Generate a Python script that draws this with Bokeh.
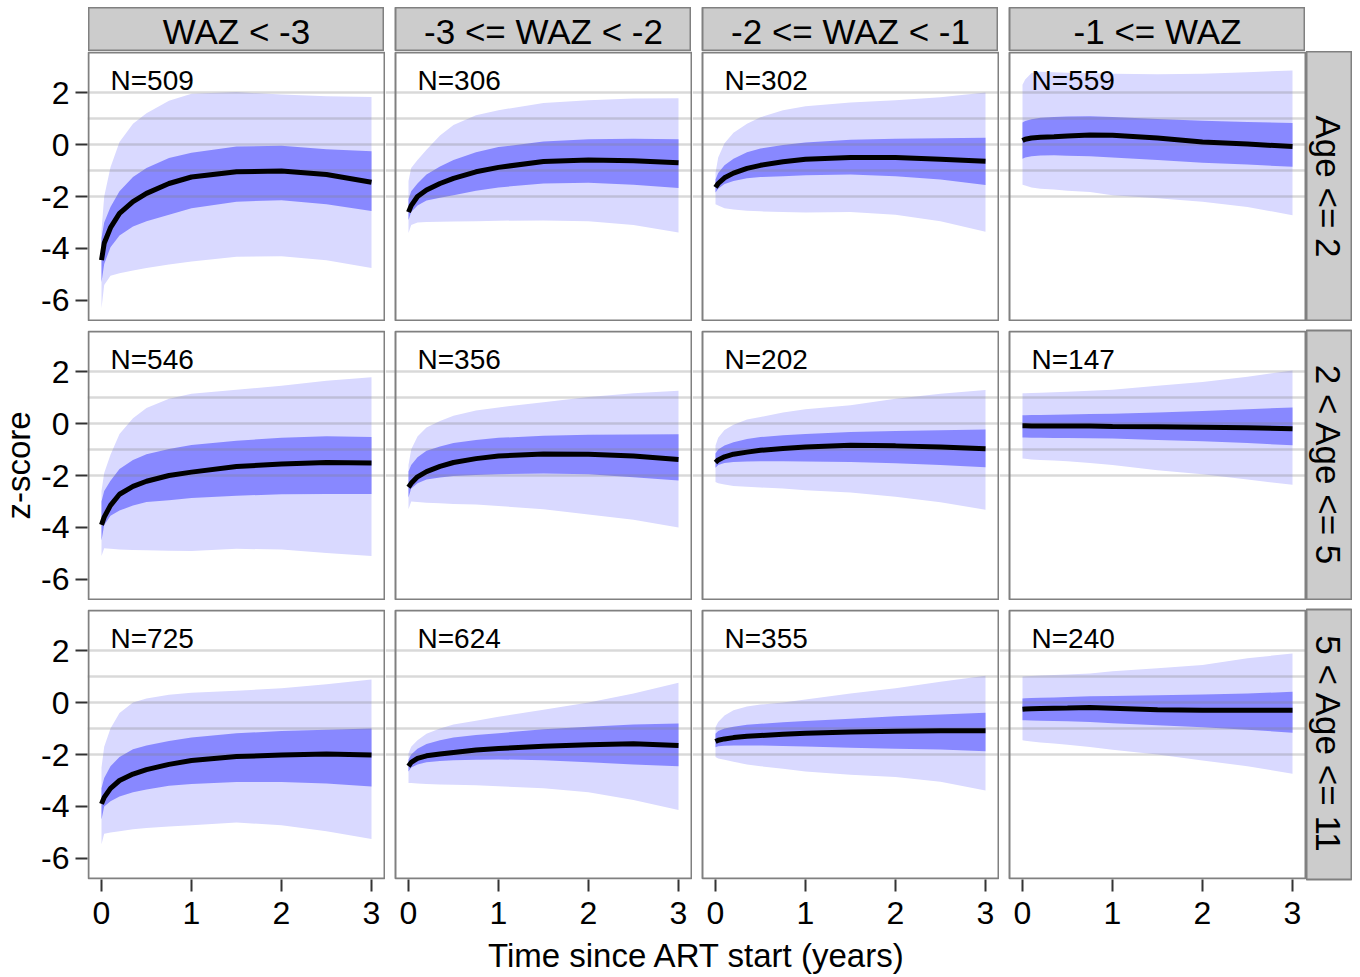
import math
from bokeh.plotting import figure
from bokeh.models import Range1d, LinearAxis, FixedTicker, Label, Spacer, CustomJSTickFormatter
from bokeh.layouts import row, column
from bokeh.embed import file_html
from bokeh.resources import INLINE
from bokeh.core.properties import value

# ---------------- data ----------------
T = [0, 0.03, 0.1, 0.2, 0.35, 0.5, 0.75, 1.0, 1.5, 2.0, 2.5, 3.0]

col_labels = ["WAZ < -3", "-3 <= WAZ < -2", "-2 <= WAZ < -1", "-1 <= WAZ"]
row_labels = ["Age <= 2", "2 < Age <= 5", "5 < Age <= 11"]
n_row1 = [509, 306, 302, 559]
n_row2 = [546, 356, 202, 147]
n_row3 = [725, 624, 355, 240]
x_ticks = [0, 1, 2, 3]
y_ticks = [-6, -4, -2, 0, 2]
ref_lines = [2, 1, 0, -1, -2]
x_lim = (-0.1444, 3.1444)
y_lim = (-6.77, 3.54)

# row 1 (Age <= 2)
r1c1_med = [-4.45, -3.8, -3.2, -2.65, -2.2, -1.88, -1.5, -1.25, -1.05, -1.02, -1.15, -1.45]
r1c1_ilo = [-5.3, -4.6, -3.95, -3.5, -3.15, -2.95, -2.7, -2.45, -2.2, -2.14, -2.3, -2.56]
r1c1_ihi = [-3.6, -3.0, -2.4, -1.8, -1.25, -0.9, -0.52, -0.32, -0.08, -0.05, -0.18, -0.26]
r1c1_olo = [-6.3, -5.4, -5.05, -4.95, -4.85, -4.75, -4.62, -4.5, -4.32, -4.3, -4.45, -4.75]
r1c1_ohi = [-3.3, -2.0, -0.87, 0.1, 0.8, 1.2, 1.68, 1.95, 2.02, 1.92, 1.86, 1.83]

r1c2_med = [-2.6, -2.35, -2.0, -1.75, -1.5, -1.3, -1.05, -0.88, -0.65, -0.6, -0.62, -0.7]
r1c2_ilo = [-2.9, -2.6, -2.35, -2.15, -2.05, -1.95, -1.78, -1.65, -1.5, -1.47, -1.55, -1.67]
r1c2_ihi = [-2.1, -1.8, -1.5, -1.15, -0.85, -0.6, -0.3, -0.1, 0.12, 0.2, 0.22, 0.2]
r1c2_olo = [-3.4, -3.1, -3.0, -2.98, -2.97, -2.96, -2.95, -2.93, -2.92, -2.95, -3.1, -3.38]
r1c2_ohi = [-1.4, -0.9, -0.6, -0.2, 0.35, 0.75, 1.13, 1.32, 1.6, 1.7, 1.77, 1.78]

r1c3_med = [-1.65, -1.5, -1.28, -1.1, -0.92, -0.8, -0.66, -0.57, -0.5, -0.5, -0.57, -0.64]
r1c3_ilo = [-1.85, -1.7, -1.52, -1.4, -1.3, -1.25, -1.22, -1.18, -1.15, -1.22, -1.35, -1.56]
r1c3_ihi = [-1.35, -1.1, -0.8, -0.55, -0.3, -0.15, -0.02, 0.08, 0.18, 0.22, 0.24, 0.26]
r1c3_olo = [-2.3, -2.35, -2.45, -2.5, -2.55, -2.57, -2.6, -2.62, -2.6, -2.7, -2.95, -3.36]
r1c3_ohi = [-1.1, -0.5, 0.05, 0.45, 0.8, 1.05, 1.32, 1.47, 1.62, 1.7, 1.82, 2.0]

r1c4_med = [0.15, 0.2, 0.25, 0.28, 0.3, 0.33, 0.37, 0.36, 0.25, 0.1, 0.02, -0.08]
r1c4_ilo = [-0.55, -0.5, -0.45, -0.42, -0.41, -0.43, -0.45, -0.5, -0.6, -0.7, -0.77, -0.86]
r1c4_ihi = [0.85, 0.9, 0.97, 1.03, 1.06, 1.08, 1.09, 1.06, 0.98, 0.91, 0.87, 0.83]
r1c4_olo = [-1.55, -1.58, -1.65, -1.7, -1.73, -1.78, -1.83, -1.95, -2.07, -2.2, -2.4, -2.72]
r1c4_ohi = [2.3, 2.5, 2.75, 2.8, 2.78, 2.76, 2.74, 2.72, 2.7, 2.72, 2.78, 2.85]

# row 2 (2 < Age <= 5)
r2c1_med = [-3.9, -3.6, -3.15, -2.72, -2.42, -2.22, -2.0, -1.87, -1.65, -1.56, -1.5, -1.52]
r2c1_ilo = [-4.5, -3.9, -3.55, -3.35, -3.15, -3.02, -2.95, -2.87, -2.78, -2.72, -2.71, -2.71]
r2c1_ihi = [-3.0, -2.6, -2.2, -1.75, -1.4, -1.18, -0.98, -0.83, -0.66, -0.55, -0.49, -0.52]
r2c1_olo = [-5.1, -4.8, -4.82, -4.85, -4.87, -4.88, -4.89, -4.9, -4.82, -4.85, -4.98, -5.1]
r2c1_ohi = [-2.6, -1.9, -1.2, -0.4, 0.2, 0.6, 0.95, 1.15, 1.3, 1.45, 1.65, 1.78]

r2c2_med = [-2.45, -2.3, -2.05, -1.85, -1.65, -1.5, -1.35, -1.25, -1.17, -1.18, -1.25, -1.38]
r2c2_ilo = [-2.85, -2.5, -2.3, -2.15, -2.08, -2.02, -1.98, -1.95, -1.92, -1.95, -2.07, -2.19]
r2c2_ihi = [-1.85, -1.6, -1.3, -1.05, -0.88, -0.75, -0.63, -0.55, -0.47, -0.43, -0.42, -0.41]
r2c2_olo = [-3.3, -3.0, -3.02, -3.05, -3.07, -3.1, -3.12, -3.17, -3.3, -3.5, -3.7, -4.0]
r2c2_ohi = [-1.6, -1.0, -0.5, -0.15, 0.1, 0.3, 0.5, 0.62, 0.82, 1.02, 1.16, 1.26]

r2c3_med = [-1.5, -1.4, -1.28, -1.18, -1.1, -1.03, -0.96, -0.9, -0.84, -0.86, -0.9, -0.97]
r2c3_ilo = [-1.7, -1.6, -1.52, -1.48, -1.46, -1.45, -1.45, -1.46, -1.48, -1.53, -1.6, -1.68]
r2c3_ihi = [-1.15, -1.0, -0.85, -0.72, -0.6, -0.52, -0.45, -0.4, -0.33, -0.29, -0.26, -0.23]
r2c3_olo = [-2.25, -2.3, -2.35, -2.4, -2.43, -2.46, -2.5, -2.57, -2.65, -2.82, -3.03, -3.32]
r2c3_ohi = [-0.85, -0.55, -0.25, -0.05, 0.15, 0.25, 0.42, 0.55, 0.7, 0.95, 1.15, 1.29]

r2c4_med = [-0.09, -0.09, -0.1, -0.1, -0.1, -0.1, -0.1, -0.11, -0.12, -0.14, -0.16, -0.2]
r2c4_ilo = [-0.54, -0.54, -0.55, -0.55, -0.56, -0.56, -0.57, -0.58, -0.63, -0.68, -0.75, -0.84]
r2c4_ihi = [0.32, 0.32, 0.33, 0.33, 0.34, 0.35, 0.37, 0.38, 0.42, 0.48, 0.55, 0.62]
r2c4_olo = [-1.35, -1.36, -1.38, -1.4, -1.42, -1.45, -1.52, -1.6, -1.8, -1.95, -2.15, -2.36]
r2c4_ohi = [1.16, 1.16, 1.17, 1.18, 1.2, 1.22, 1.26, 1.3, 1.45, 1.6, 1.8, 2.04]

# row 3 (5 < Age <= 11)
r3c1_med = [-3.9, -3.65, -3.3, -3.0, -2.75, -2.58, -2.38, -2.23, -2.08, -2.02, -1.98, -2.02]
r3c1_ilo = [-4.5, -4.0, -3.8, -3.62, -3.45, -3.35, -3.2, -3.13, -3.06, -3.06, -3.12, -3.23]
r3c1_ihi = [-3.3, -2.9, -2.45, -2.1, -1.8, -1.65, -1.48, -1.35, -1.18, -1.1, -1.05, -1.0]
r3c1_olo = [-5.45, -5.05, -5.0, -4.95, -4.88, -4.83, -4.77, -4.72, -4.62, -4.72, -4.95, -5.25]
r3c1_ohi = [-2.5, -1.7, -1.0, -0.4, 0.0, 0.15, 0.3, 0.38, 0.45, 0.55, 0.7, 0.89]

r3c2_med = [-2.45, -2.3, -2.15, -2.05, -1.98, -1.92, -1.83, -1.77, -1.68, -1.62, -1.59, -1.65]
r3c2_ilo = [-2.65, -2.5, -2.38, -2.3, -2.25, -2.22, -2.2, -2.19, -2.22, -2.3, -2.38, -2.45]
r3c2_ihi = [-2.2, -2.0, -1.78, -1.6, -1.45, -1.35, -1.25, -1.18, -1.03, -0.93, -0.85, -0.81]
r3c2_olo = [-3.1, -3.1, -3.12, -3.13, -3.15, -3.16, -3.18, -3.22, -3.3, -3.45, -3.75, -4.13]
r3c2_ohi = [-1.95, -1.7, -1.45, -1.2, -1.0, -0.85, -0.7, -0.55, -0.28, 0.0, 0.35, 0.76]

r3c3_med = [-1.5, -1.45, -1.4, -1.35, -1.3, -1.27, -1.22, -1.18, -1.13, -1.11, -1.09, -1.09]
r3c3_ilo = [-1.72, -1.68, -1.66, -1.65, -1.65, -1.65, -1.67, -1.69, -1.74, -1.78, -1.81, -1.87]
r3c3_ihi = [-1.2, -1.1, -1.0, -0.93, -0.86, -0.82, -0.76, -0.71, -0.62, -0.53, -0.46, -0.39]
r3c3_olo = [-2.1, -2.15, -2.2, -2.28, -2.38, -2.45, -2.55, -2.65, -2.78, -2.87, -3.05, -3.38]
r3c3_ohi = [-0.95, -0.75, -0.5, -0.3, -0.15, -0.08, 0.0, 0.12, 0.35, 0.55, 0.8, 1.03]

r3c4_med = [-0.26, -0.25, -0.24, -0.23, -0.22, -0.21, -0.19, -0.22, -0.28, -0.3, -0.3, -0.3]
r3c4_ilo = [-0.68, -0.68, -0.69, -0.7, -0.71, -0.72, -0.75, -0.8, -0.87, -0.95, -1.05, -1.16]
r3c4_ihi = [0.15, 0.16, 0.17, 0.18, 0.19, 0.21, 0.24, 0.25, 0.28, 0.31, 0.35, 0.41]
r3c4_olo = [-1.45, -1.47, -1.5, -1.54, -1.58, -1.62, -1.71, -1.82, -2.0, -2.23, -2.45, -2.74]
r3c4_ohi = [1.0, 1.01, 1.02, 1.04, 1.06, 1.08, 1.12, 1.2, 1.32, 1.44, 1.7, 1.89]

panels = [
    [(r1c1_med, r1c1_ilo, r1c1_ihi, r1c1_olo, r1c1_ohi),
     (r1c2_med, r1c2_ilo, r1c2_ihi, r1c2_olo, r1c2_ohi),
     (r1c3_med, r1c3_ilo, r1c3_ihi, r1c3_olo, r1c3_ohi),
     (r1c4_med, r1c4_ilo, r1c4_ihi, r1c4_olo, r1c4_ohi)],
    [(r2c1_med, r2c1_ilo, r2c1_ihi, r2c1_olo, r2c1_ohi),
     (r2c2_med, r2c2_ilo, r2c2_ihi, r2c2_olo, r2c2_ohi),
     (r2c3_med, r2c3_ilo, r2c3_ihi, r2c3_olo, r2c3_ohi),
     (r2c4_med, r2c4_ilo, r2c4_ihi, r2c4_olo, r2c4_ohi)],
    [(r3c1_med, r3c1_ilo, r3c1_ihi, r3c1_olo, r3c1_ohi),
     (r3c2_med, r3c2_ilo, r3c2_ihi, r3c2_olo, r3c2_ohi),
     (r3c3_med, r3c3_ilo, r3c3_ihi, r3c3_olo, r3c3_ohi),
     (r3c4_med, r3c4_ilo, r3c4_ihi, r3c4_olo, r3c4_ohi)],
]
n_values = [n_row1, n_row2, n_row3]

# ---------------- style ----------------
FONT = "Liberation Sans"
OUTER = "#d9d9ff"
INNER = "#8888ff"
BORDER = "#808080"
STRIP = "#cccccc"
FW, FH = 296, 268          # panel box size (px)
GAP = 11                   # gap between panels (px)
PXX = FW / (x_lim[1] - x_lim[0])   # px per x unit
PXY = FH / (y_lim[1] - y_lim[0])   # px per y unit
LEFT_AX = 49
BOTTOM_AX = 61
TOP_PAD = 7
STRIP_H = 44
RS_W = 46
YLAB_W = 38
XLAB_H = 37
TICK_FS = "32px"
STRIP_FS = "35px"
TITLE_FS = "33px"
N_FS = "28px"


def base_fig(width, height, left, top, bottom, xr, yr, bg="white"):
    p = figure(width=width, height=height, x_range=xr, y_range=yr,
               output_backend="svg", toolbar_location=None, title=None,
               x_axis_location=None, y_axis_location=None,
               min_border_left=left, min_border_right=0,
               min_border_top=top, min_border_bottom=bottom)
    p.grid.visible = False
    p.background_fill_color = bg
    p.border_fill_color = "white"
    p.outline_line_color = None
    return p


def style_axis(ax, standoff):
    ax.axis_line_color = None
    ax.major_tick_in = 0
    ax.major_tick_out = 12
    ax.major_tick_line_width = 2
    ax.major_tick_line_color = "#333333"
    ax.minor_tick_line_color = None
    ax.major_label_text_font = FONT
    ax.major_label_text_font_size = TICK_FS
    ax.major_label_text_color = "black"
    ax.major_label_standoff = standoff
    ax.formatter = CustomJSTickFormatter(code="return String(tick);")


def row_geom(r):
    top = 0 if r == 0 else GAP - 2
    bottom = BOTTOM_AX if r == 2 else 0
    return top, bottom


def panel(r, c):
    med, ilo, ihi, olo, ohi = panels[r][c]
    top, bottom = row_geom(r)
    left = LEFT_AX if c == 0 else 0
    lead_px = 1 if c == 0 else GAP - 1     # frame reaches into the gap on the left
    fw = lead_px + FW + 1
    fh = FH + 2
    xr = Range1d(x_lim[0] - lead_px / PXX, x_lim[1] + 1 / PXX)
    yr = Range1d(y_lim[0] - 1 / PXY, y_lim[1] + 1 / PXY)
    p = base_fig(left + fw, top + fh + bottom, left, top, bottom, xr, yr)
    p.varea(x=T, y1=olo, y2=ohi, fill_color=OUTER, fill_alpha=1.0)
    p.varea(x=T, y1=ilo, y2=ihi, fill_color=INNER, fill_alpha=1.0)
    p.hspan(y=ref_lines, line_color="#808080", line_alpha=0.3, line_width=2.5)
    p.line(x=T, y=med, line_color="black", line_width=5)
    # panel border
    p.quad(left=[x_lim[0]], right=[x_lim[1]], bottom=[y_lim[0]], top=[y_lim[1]],
           fill_color=None, line_color=BORDER, line_width=2)
    p.add_layout(Label(x=0.1, y=2.48, text="N=%d" % n_values[r][c],
                       text_font=FONT, text_font_size=N_FS,
                       text_color="black", text_baseline="middle"))
    if c == 0:
        ax = LinearAxis(ticker=FixedTicker(ticks=y_ticks))
        style_axis(ax, 6)
        p.add_layout(ax, "left")
    if r == 2:
        ax = LinearAxis(ticker=FixedTicker(ticks=x_ticks))
        style_axis(ax, 10)
        p.add_layout(ax, "below")
    return p


def top_strip(c):
    left = 0 if c == 0 else GAP
    p = base_fig(left + FW, STRIP_H, left, 0, 0, Range1d(0, FW), Range1d(0, STRIP_H), bg=STRIP)
    p.outline_line_color = BORDER
    p.outline_line_width = 2
    p.text(x=[FW / 2], y=[20], text=[col_labels[c]], text_font=value(FONT),
           text_font_size=STRIP_FS, text_align="center",
           text_baseline="middle", text_color="black")
    return p


def right_strip(r):
    top, bottom = row_geom(r)
    fh = FH + 2
    p = base_fig(RS_W, top + fh + bottom, 0, top, bottom, Range1d(0, RS_W), Range1d(0, fh), bg=STRIP)
    p.outline_line_color = BORDER
    p.outline_line_width = 2
    p.text(x=[22], y=[fh / 2], text=[row_labels[r]], text_font=value(FONT),
           text_font_size=STRIP_FS, text_align="center", angle=-math.pi / 2,
           text_baseline="middle", text_color="black")
    return p


# y-axis title
YH = (FH + 2) * 3 + (GAP - 2) * 2
ylab = base_fig(YLAB_W, YH, 0, 0, 0, Range1d(0, YLAB_W), Range1d(0, YH))
ylab.text(x=[18], y=[YH / 2], text=["z-score"], text_font=value(FONT),
          text_font_size=TITLE_FS, text_align="center", angle=math.pi / 2,
          text_baseline="middle", text_color="black")

# x-axis title
XW = FW * 4 + GAP * 3
xlab = base_fig(XW, XLAB_H, 0, 0, 0, Range1d(0, XW), Range1d(0, XLAB_H))
xlab.text(x=[XW / 2], y=[22], text=["Time since ART start (years)"], text_font=value(FONT),
          text_font_size=TITLE_FS, text_align="center",
          text_baseline="middle", text_color="black")

top_row = row(Spacer(width=YLAB_W + LEFT_AX + 1, height=STRIP_H), *[top_strip(c) for c in range(4)])
grid_rows = [row(*[panel(r, c) for c in range(4)], right_strip(r)) for r in range(3)]
middle = row(ylab, column(*grid_rows))
bottom_row = row(Spacer(width=YLAB_W + LEFT_AX + 1, height=XLAB_H), xlab)
layout = column(Spacer(width=10, height=TOP_PAD), top_row, middle, bottom_row)

open("out.html", "w").write(file_html(layout, INLINE))
